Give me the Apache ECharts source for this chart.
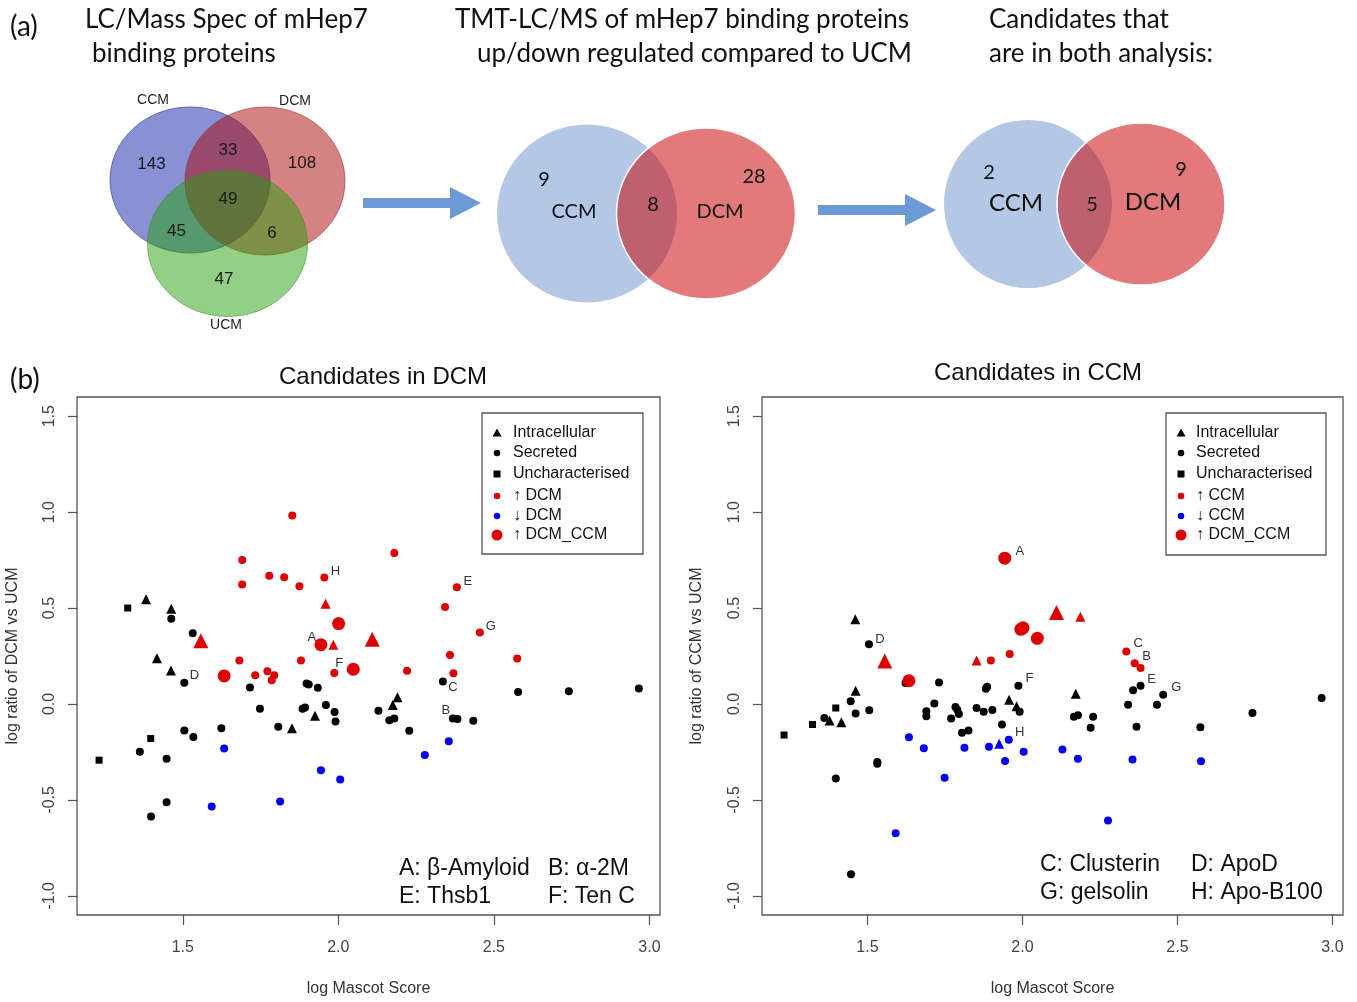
<!DOCTYPE html>
<html><head><meta charset="utf-8">
<script src="https://cdn.jsdelivr.net/npm/echarts@6/dist/echarts.min.js"></script>
<style>html,body{margin:0;padding:0;background:#fff}#c{width:1357px;height:1002px}</style>
</head><body><div id="c"></div>
<script>
// ---------------- DATA ----------------
const venn1Sets = ['CCM', 'DCM', 'UCM'];
// regions: CCM only, CCM∩DCM, DCM only, all three, CCM∩UCM, DCM∩UCM, UCM only
const venn1Counts = [143, 33, 108, 49, 45, 6, 47];
const venn2Sets = ['CCM', 'DCM'];
const venn2Counts = [9, 8, 28];   // CCM only, both, DCM only
const venn3Sets = ['CCM', 'DCM'];
const venn3Counts = [2, 5, 9];

const xTicks = [1.5, 2.0, 2.5, 3.0];
const yTicks = [-1.0, -0.5, 0.0, 0.5, 1.0, 1.5];

// Candidates in DCM  [log Mascot Score, log ratio DCM vs UCM, label]
const dcmIntracellular = [[1.382,0.546],[1.463,0.496],[1.417,0.238],[1.462,0.175],[1.925,-0.061],[1.851,-0.126],[2.190,0.035],[2.175,-0.006]];
const dcmSecreted = [[1.463,0.444],[1.532,0.368],[1.505,0.110,'D'],[1.716,0.086],[1.898,0.107],[1.905,0.102],[1.934,0.085],[1.748,-0.025],[1.885,-0.025],[1.893,-0.018],[1.960,-0.006],[1.988,-0.042],[1.991,-0.092],[2.129,-0.035],[1.807,-0.119],[1.624,-0.127],[1.505,-0.138],[1.534,-0.172],[1.362,-0.249],[1.448,-0.286],[1.448,-0.512],[1.398,-0.587],[2.336,0.117,'C'],[2.578,0.063],[2.741,0.066],[2.966,0.081],[2.164,-0.085],[2.180,-0.076],[2.368,-0.076,'B'],[2.383,-0.079],[2.434,-0.088],[2.228,-0.139]];
const dcmUncharacterised = [[1.323,0.500],[1.397,-0.180],[1.231,-0.293]];
const dcmUp = [[1.852,0.982],[1.691,0.751],[1.691,0.623],[1.778,0.668],[1.826,0.661],[1.875,0.614],[1.955,0.659,'H'],[2.180,0.787],[2.381,0.608,'E'],[2.343,0.505],[2.455,0.372,'G'],[1.682,0.227],[1.733,0.150],[1.772,0.170],[1.794,0.150],[1.786,0.124],[1.880,0.227],[1.987,0.162,'F'],[2.359,0.255],[2.575,0.237],[2.221,0.173],[2.370,0.160]];
const dcmUpIntracellular = [[1.959,0.522],[1.984,0.309]];
const dcmDown = [[1.633,-0.232],[1.944,-0.345],[2.006,-0.394],[1.813,-0.509],[1.593,-0.534],[2.355,-0.194],[2.278,-0.266]];
const dcmBoth = [[2.001,0.419],[1.944,0.309,'A'],[1.633,0.146],[2.048,0.181]];
const dcmBothIntracellular = [[1.558,0.329],[2.109,0.337]];

// Candidates in CCM  [log Mascot Score, log ratio CCM vs UCM, label]
const ccmIntracellular = [[1.461,0.442],[1.462,0.069],[1.957,0.022],[1.981,-0.012],[1.378,-0.086],[1.416,-0.095],[2.172,0.053]];
const ccmSecreted = [[1.505,0.311,'D'],[1.623,0.109],[1.731,0.112],[1.882,0.079],[1.886,0.090],[1.987,0.095,'F'],[1.446,0.014],[1.991,-0.041],[1.506,-0.033],[1.462,-0.050],[1.361,-0.073],[1.716,0.002],[1.690,-0.038],[1.690,-0.064],[1.784,-0.016],[1.790,-0.030],[1.795,-0.052],[1.770,-0.076],[1.852,-0.021],[1.875,-0.041],[1.903,-0.031],[1.934,-0.107],[1.805,-0.150],[1.826,-0.138],[1.532,-0.302],[1.532,-0.311],[1.398,-0.389],[1.447,-0.888],[2.381,0.095,'E'],[2.357,0.071],[2.454,0.048,'G'],[2.341,-0.004],[2.434,-0.004],[2.166,-0.067],[2.179,-0.059],[2.228,-0.067],[2.220,-0.124],[2.368,-0.119],[2.574,-0.121],[2.742,-0.047],[2.965,0.031]];
const ccmUncharacterised = [[1.398,-0.021],[1.323,-0.107],[1.231,-0.162]];
const ccmUp = [[1.898,0.226],[1.959,0.261],[2.335,0.273,'C'],[2.362,0.212,'B'],[2.381,0.187]];
const ccmUpIntracellular = [[1.852,0.226],[2.187,0.454]];
const ccmDown = [[1.634,-0.173],[1.682,-0.231],[1.813,-0.228],[1.892,-0.223],[1.956,-0.187,'H'],[2.004,-0.249],[1.944,-0.297],[1.749,-0.385],[1.591,-0.674],[2.129,-0.238],[2.179,-0.285],[2.355,-0.289],[2.576,-0.299],[2.276,-0.608]];
const ccmDownIntracellular = [[1.925,-0.207]];
const ccmBoth = [[1.943,0.760,'A'],[1.995,0.389],[2.002,0.397],[2.048,0.342],[1.634,0.121]];
const ccmBothIntracellular = [[2.110,0.477],[1.556,0.224]];

const dcmLegend = ['Intracellular', 'Secreted', 'Uncharacterised', '↑ DCM', '↓ DCM', '↑ DCM_CCM'];
const ccmLegend = ['Intracellular', 'Secreted', 'Uncharacterised', '↑ CCM', '↓ CCM', '↑ DCM_CCM'];
const dcmNotes = [['A: β-Amyloid', 'B: α-2M'], ['E: Thsb1', 'F: Ten C']];
const ccmNotes = [['C: Clusterin', 'D: ApoD'], ['G: gelsolin', 'H: Apo-B100']];

// ---------------- STYLE / LAYOUT ----------------
const SANS = '"Liberation Sans", Arial, sans-serif';
const HUM = 'Lato, "Open Sans", sans-serif';
const RED = '#dd0000', BLUE = '#0000ee', BLACK = '#000000';
const dcmLabelOffset = {A:[-9,-7], B:[-7,-8], C:[10,6], D:[10,-7], E:[11,-6], F:[5,-9], G:[11,-6], H:[11,-6]};
const ccmLabelOffset = {A:[15,-7], B:[12,-7], C:[12,-8], D:[11,-5], E:[11,-6], F:[11,-7], G:[13,-7], H:[11,-7]};

const chart = echarts.init(document.getElementById('c'), null, {renderer: 'canvas'});

function toItems(rows, offs) {
  return rows.map(r => r[2] ? {
    value: [r[0], r[1]],
    label: {show: true, formatter: r[2], position: 'inside', offset: offs[r[2]],
            color: '#333', fontSize: 13, fontFamily: SANS}
  } : [r[0], r[1]]);
}
function sc(name, rows, gi, symbol, size, color, offs, z) {
  return {
    name, type: 'scatter', xAxisIndex: gi, yAxisIndex: gi, data: toItems(rows, offs),
    symbol, symbolSize: size, itemStyle: {color, opacity: 1}, z: z || 2,
    emphasis: {disabled: true}, animation: false
  };
}
function xAx(gi) {
  return {
    gridIndex: gi, type: 'value', min: 1.16, max: 3.034,
    splitLine: {show: false}, axisLine: {show: false, onZero: false},
    axisTick: {show: true, inside: false, length: 10, customValues: xTicks, lineStyle: {color: '#555', width: 1.2}},
    axisLabel: {customValues: xTicks, formatter: v => v.toFixed(1), margin: 25, color: '#444', fontSize: 16, fontFamily: SANS},
    name: 'log Mascot Score', nameLocation: 'middle', nameGap: 66,
    nameTextStyle: {color: '#333', fontSize: 16, fontFamily: SANS}
  };
}
function yAx(gi, name, margin, gap) {
  return {
    gridIndex: gi, type: 'value', min: -1.1, max: 1.6,
    splitLine: {show: false}, axisLine: {show: false, onZero: false},
    axisTick: {show: true, inside: false, length: 9, customValues: yTicks, lineStyle: {color: '#555', width: 1.2}},
    axisLabel: {customValues: yTicks, formatter: v => v.toFixed(1), rotate: 90, margin, color: '#444', fontSize: 16, fontFamily: SANS},
    name, nameLocation: 'middle', nameGap: gap, nameRotate: 90,
    nameTextStyle: {color: '#333', fontSize: 16, fontFamily: SANS}
  };
}

// graphic helpers
function ell(cx, cy, rx, ry, fill, stroke, lw) {
  return {type: 'circle', x: cx, y: cy, scaleY: ry / rx, shape: {cx: 0, cy: 0, r: rx},
          style: {fill, stroke: stroke || 'none', lineWidth: lw || 0}, silent: true, z: 1};
}
function txt(s, x, y, font, align, color) {
  return {type: 'text', x, y, silent: true, z: 5,
          style: {text: s, font, fill: color || '#111', align: align || 'center', verticalAlign: 'middle',
                  textAlign: align || 'center', textVerticalAlign: 'middle'}};
}
function arrow(x0, x1, xt, cy, sh, hh, color) {
  return {type: 'polygon', silent: true, z: 1,
          shape: {points: [[x0, cy - sh/2], [x1, cy - sh/2], [x1, cy - hh/2], [xt, cy], [x1, cy + hh/2], [x1, cy + sh/2], [x0, cy + sh/2]]},
          style: {fill: color}};
}
function sym(kind, x, y, s, color) {
  if (kind === 'circle') return {type: 'circle', shape: {cx: x, cy: y, r: s / 2}, style: {fill: color}, silent: true, z: 6};
  if (kind === 'rect') return {type: 'rect', shape: {x: x - s/2, y: y - s/2, width: s, height: s}, style: {fill: color}, silent: true, z: 6};
  return {type: 'polygon', shape: {points: [[x, y - s/2], [x + s/2, y + s/2 - 1], [x - s/2, y + s/2 - 1]]}, style: {fill: color}, silent: true, z: 6};
}
function legendBox(x0, y0, x1, y1, symX, textX, labels) {
  const rows = [433, 453, 474, 496, 516, 535];
  const kinds = [['tri', 9, BLACK], ['circle', 6.5, BLACK], ['rect', 7, BLACK], ['circle', 6.5, RED], ['circle', 6.5, BLUE], ['circle', 11, RED]];
  const out = [{type: 'rect', shape: {x: x0, y: y0, width: x1 - x0, height: y1 - y0},
                style: {fill: '#fff', stroke: '#555', lineWidth: 1.3}, silent: true, z: 5}];
  labels.forEach((l, i) => {
    out.push(sym(kinds[i][0], symX, rows[i], kinds[i][1], kinds[i][2]));
    out.push(txt(l, textX, rows[i], '16px ' + SANS, 'left', '#111'));
  });
  return out;
}

const graphics = [];
// panel letters and headings
graphics.push(txt('(a)', 10, 27, '28px ' + HUM, 'left'));
graphics.push(txt('(b)', 10, 380, '28px ' + HUM, 'left'));
graphics.push(txt('LC/Mass Spec of mHep7', 85, 20, '26px ' + HUM, 'left'));
graphics.push(txt('binding proteins', 92, 54, '26px ' + HUM, 'left'));
graphics.push(txt('TMT-LC/MS of mHep7 binding proteins', 455, 20, '26px ' + HUM, 'left'));
graphics.push(txt('up/down regulated compared to UCM', 477, 54, '26px ' + HUM, 'left'));
graphics.push(txt('Candidates that', 989, 20, '26px ' + HUM, 'left'));
graphics.push(txt('are in both analysis:', 989, 54, '26px ' + HUM, 'left'));

// Venn 1
graphics.push(ell(190, 180, 80, 73, 'rgba(20,35,170,0.5)', 'rgba(50,60,150,0.7)', 1));
graphics.push(ell(265, 181, 80, 74, 'rgba(170,5,5,0.5)', 'rgba(150,40,40,0.6)', 1));
graphics.push(ell(227.5, 243.5, 80, 73, 'rgba(40,160,10,0.5)', 'rgba(60,140,40,0.6)', 1));
const v1SetPos = [[153, 100], [295, 101], [226, 325]];
venn1Sets.forEach((s, i) => graphics.push(txt(s, v1SetPos[i][0], v1SetPos[i][1], '14px ' + SANS, 'center', '#222')));
const v1Pos = [[151.5, 164], [228, 150], [302, 163], [228, 199], [176.5, 231], [272, 233], [224, 279]];
venn1Counts.forEach((c, i) => graphics.push(txt(String(c), v1Pos[i][0], v1Pos[i][1], '17px ' + SANS, 'center', '#1a1a1a')));

// arrows
graphics.push(arrow(363, 450, 481, 203, 10, 32, '#6c9ad6'));
graphics.push(arrow(818, 905, 936, 210, 10, 32, '#6c9ad6'));

// Venn 2
graphics.push(ell(587, 213.5, 90, 89, '#b4c8e6'));
graphics.push(ell(706, 213.5, 89.5, 85.5, 'rgba(199,0,3,0.52)', '#ffffff', 1.5));
const v2SetPos = [[574, 212], [720, 212]];
venn2Sets.forEach((s, i) => graphics.push(txt(s, v2SetPos[i][0], v2SetPos[i][1], '20px ' + HUM, 'center', '#111')));
const v2Pos = [[544, 180], [653, 205], [754, 177]];
venn2Counts.forEach((c, i) => graphics.push(txt(String(c), v2Pos[i][0], v2Pos[i][1], '20px ' + HUM, 'center', '#111')));

// Venn 3
graphics.push(ell(1028, 204, 84, 84, '#b4c8e6'));
graphics.push(ell(1141, 204, 84, 81, 'rgba(199,0,3,0.52)', '#ffffff', 1.5));
const v3SetPos = [[1016, 203], [1153, 202]];
venn3Sets.forEach((s, i) => graphics.push(txt(s, v3SetPos[i][0], v3SetPos[i][1], '24px ' + HUM, 'center', '#111')));
const v3Pos = [[989, 173], [1092, 205], [1181, 170]];
venn3Counts.forEach((c, i) => graphics.push(txt(String(c), v3Pos[i][0], v3Pos[i][1], '20px ' + HUM, 'center', '#111')));

// plot titles
graphics.push(txt('Candidates in DCM', 383, 377, '24px ' + SANS, 'center', '#111'));
graphics.push(txt('Candidates in CCM', 1038, 373, '24px ' + SANS, 'center', '#111'));

// legends
graphics.push(...legendBox(482, 413, 643, 554, 497, 513, dcmLegend));
graphics.push(...legendBox(1166, 413, 1326, 555, 1181, 1196, ccmLegend));

// notes
const noteRows = [[869, 897], [865, 893]];
dcmNotes.forEach((row, r) => { graphics.push(txt(row[0], 399, noteRows[0][r], '23px ' + SANS, 'left', '#111')); graphics.push(txt(row[1], 548, noteRows[0][r], '23px ' + SANS, 'left', '#111')); });
ccmNotes.forEach((row, r) => { graphics.push(txt(row[0], 1040, noteRows[1][r], '23px ' + SANS, 'left', '#111')); graphics.push(txt(row[1], 1191, noteRows[1][r], '23px ' + SANS, 'left', '#111')); });

const option = {
  backgroundColor: '#ffffff',
  animation: false,
  grid: [
    {left: 77, right: 697, top: 397, bottom: 83, show: true, borderColor: '#555', borderWidth: 1.3, backgroundColor: 'transparent'},
    {left: 762, right: 14, top: 397, bottom: 83, show: true, borderColor: '#555', borderWidth: 1.3, backgroundColor: 'transparent'}
  ],
  xAxis: [xAx(0), xAx(1)],
  yAxis: [yAx(0, 'log ratio of DCM vs UCM', 19, 56), yAx(1, 'log ratio of CCM vs UCM', 19, 57)],
  series: [
    sc('Intracellular', dcmIntracellular, 0, 'triangle', 10, BLACK, dcmLabelOffset),
    sc('Secreted', dcmSecreted, 0, 'circle', 8, BLACK, dcmLabelOffset),
    sc('Uncharacterised', dcmUncharacterised, 0, 'rect', 7, BLACK, dcmLabelOffset),
    sc('↓ DCM', dcmDown, 0, 'circle', 8, BLUE, dcmLabelOffset, 3),
    sc('↑ DCM', dcmUp, 0, 'circle', 8, RED, dcmLabelOffset, 3),
    sc('↑ DCM intracellular', dcmUpIntracellular, 0, 'triangle', 10, RED, dcmLabelOffset, 3),
    sc('↑ DCM_CCM', dcmBoth, 0, 'circle', 13, RED, dcmLabelOffset, 4),
    sc('↑ DCM_CCM intracellular', dcmBothIntracellular, 0, 'triangle', 15, RED, dcmLabelOffset, 4),

    sc('Intracellular', ccmIntracellular, 1, 'triangle', 10, BLACK, ccmLabelOffset),
    sc('Secreted', ccmSecreted, 1, 'circle', 8, BLACK, ccmLabelOffset),
    sc('Uncharacterised', ccmUncharacterised, 1, 'rect', 7, BLACK, ccmLabelOffset),
    sc('↓ CCM', ccmDown, 1, 'circle', 8, BLUE, ccmLabelOffset, 3),
    sc('↓ CCM intracellular', ccmDownIntracellular, 1, 'triangle', 10, BLUE, ccmLabelOffset, 3),
    sc('↑ CCM', ccmUp, 1, 'circle', 8, RED, ccmLabelOffset, 3),
    sc('↑ CCM intracellular', ccmUpIntracellular, 1, 'triangle', 10, RED, ccmLabelOffset, 3),
    sc('↑ DCM_CCM', ccmBoth, 1, 'circle', 13, RED, ccmLabelOffset, 4),
    sc('↑ DCM_CCM intracellular', ccmBothIntracellular, 1, 'triangle', 15, RED, ccmLabelOffset, 4)
  ],
  graphic: {elements: graphics}
};
chart.setOption(option);
</script>
</body></html>
